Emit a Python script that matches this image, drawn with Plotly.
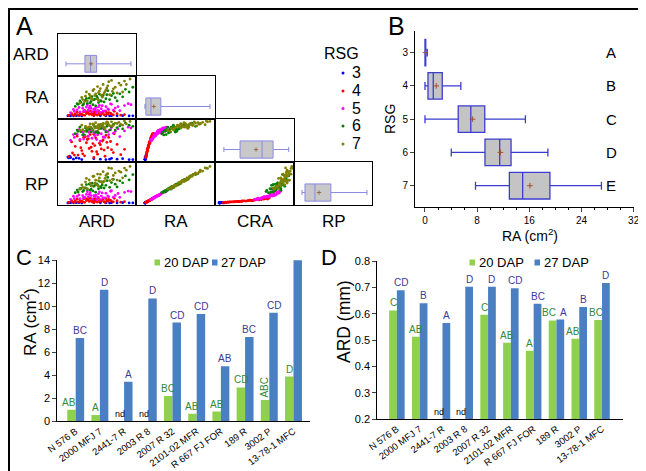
import plotly.graph_objects as go

W, H = 646, 471
FONT = "Liberation Sans, Arial, sans-serif"

# ---------------- Panel A data (samples per root-size group) ----------------
rsg_groups = ["3", "4", "5", "6", "7"]
rsg_colors = ["#0000ff", "#ff0000", "#ff00ff", "#008000", "#808000"]
a_vars = ["ARD", "RA", "CRA", "RP"]

g3_ard = [0.33, 0.36, 0.42, 0.55, 0.62, 0.68, 0.74, 0.80, 0.86, 0.93, 0.30, 0.39,
          0.27, 0.29, 0.28, 0.97, 0.72]
g3_ra = [0.1, 0.2, 0.05, 0.3, 0.15, 0.1, 0.25, 0.1, 0.2, 0.05, 0.15, 0.3,
         0.1, 0.3, 0.2, 0.1, 0.05]
g3_cra = [0.02, 0.05, 0.01, 0.03, 0.02, 0.01, 0.04, 0.02, 0.03, 0.01, 0.06, 0.04,
          0.07, 0.09, 0.05, 0.01, 0.02]
g3_rp = [0.2, 0.3, 0.1, 0.4, 0.2, 0.1, 0.3, 0.1, 0.3, 0.1, 0.2, 0.4,
         0.1, 0.3, 0.2, 0.1, 0.1]

g4_ard = [0.28, 0.32, 0.35, 0.38, 0.40, 0.42, 0.44, 0.45, 0.47, 0.48, 0.50, 0.51, 0.53, 0.54,
          0.56, 0.57, 0.59, 0.60, 0.62, 0.64, 0.66, 0.68, 0.70, 0.73, 0.76, 0.80, 0.84, 0.88,
          0.31, 0.34, 0.37, 0.41, 0.43, 0.46, 0.49, 0.52, 0.55, 0.58, 0.61, 0.63, 0.65, 0.67,
          0.69, 0.71, 0.74, 0.77, 0.45, 0.55]
g4_ra = [0.4, 0.8, 1.5, 0.6, 2.2, 1.1, 3.0, 0.5, 1.8, 2.6, 1.2, 3.5, 0.9, 2.0,
         1.4, 2.8, 0.7, 3.8, 1.6, 2.4, 1.0, 3.2, 1.3, 2.1, 0.8, 1.7, 0.6, 1.0,
         1.9, 0.5, 2.7, 1.3, 0.7, 3.3, 2.3, 1.5, 3.0, 0.9, 2.0, 1.1, 2.9, 0.6,
         1.8, 2.5, 1.2, 3.4, 4.0, 0.4]
g4_cra = [0.08, 0.17, 0.33, 0.12, 0.47, 0.23, 0.55, 0.10, 0.42, 0.50, 0.28, 0.62, 0.21, 0.40,
          0.35, 0.54, 0.14, 0.65, 0.37, 0.46, 0.24, 0.60, 0.30, 0.45, 0.18, 0.38, 0.13, 0.26,
          0.44, 0.12, 0.58, 0.30, 0.15, 0.57, 0.52, 0.31, 0.63, 0.20, 0.41, 0.27, 0.49, 0.09,
          0.43, 0.55, 0.25, 0.64, 0.60, 0.06]
g4_rp = [0.6, 1.1, 2.2, 0.9, 3.1, 1.6, 4.3, 0.7, 2.6, 3.8, 1.7, 5.0, 1.3, 2.9,
         2.0, 4.0, 1.0, 5.4, 2.3, 3.4, 1.4, 4.6, 1.9, 3.0, 1.2, 2.4, 0.9, 1.5,
         2.5, 0.9, 4.0, 1.7, 1.1, 4.8, 3.2, 2.3, 4.2, 1.3, 2.8, 1.6, 4.4, 0.8,
         2.6, 3.7, 1.8, 5.0, 5.9, 0.5]

g5_ard = [0.30, 0.34, 0.37, 0.40, 0.43, 0.45, 0.47, 0.49, 0.51, 0.53, 0.55, 0.57,
          0.59, 0.61, 0.63, 0.65, 0.68, 0.71, 0.74, 0.78, 0.83, 0.92, 0.62, 0.50,
          0.33, 0.39, 0.44, 0.48, 0.52, 0.56, 0.60, 0.64, 0.67, 0.70, 0.73, 0.76,
          0.81, 0.88, 0.95, 0.58]
g5_ra = [2.5, 3.4, 4.5, 2.9, 5.6, 3.8, 6.5, 4.2, 7.2, 3.1, 5.0, 6.0,
         4.0, 7.8, 5.3, 3.5, 6.8, 4.7, 8.5, 5.8, 3.9, 9.0, 2.7, 5.9,
         4.8, 6.2, 3.3, 8.0, 5.5, 4.4, 6.6, 7.5, 3.7, 5.1, 8.8, 4.3,
         6.9, 7.6, 8.2, 2.4]
g5_cra = [0.48, 0.55, 0.63, 0.50, 0.68, 0.60, 0.72, 0.58, 0.75, 0.53, 0.66, 0.69,
          0.61, 0.77, 0.64, 0.56, 0.71, 0.62, 0.79, 0.70, 0.57, 0.80, 0.46, 0.67,
          0.62, 0.74, 0.51, 0.70, 0.72, 0.59, 0.66, 0.78, 0.55, 0.69, 0.74, 0.65,
          0.76, 0.71, 0.78, 0.50]
g5_rp = [3.9, 4.6, 6.9, 4.5, 7.7, 5.9, 9.0, 6.5, 10.9, 4.2, 7.7, 8.3,
         6.2, 11.8, 7.3, 5.4, 10.3, 6.5, 12.9, 8.0, 6.0, 12.6, 3.6, 9.0,
         7.1, 8.6, 5.0, 11.9, 7.8, 6.6, 9.7, 10.6, 5.3, 7.4, 12.4, 6.1,
         10.0, 11.2, 12.0, 3.5]

g6_ard = [0.35, 0.38, 0.41, 0.43, 0.46, 0.48, 0.50, 0.52, 0.54, 0.56, 0.58,
          0.60, 0.62, 0.64, 0.66, 0.69, 0.72, 0.76, 0.80, 0.86, 0.93, 0.57,
          0.37, 0.40, 0.44, 0.47, 0.51, 0.53, 0.55, 0.59, 0.61, 0.63, 0.65,
          0.68, 0.70, 0.74, 0.78, 0.83, 0.89, 0.97]
g6_ra = [7.0, 8.5, 10.0, 7.8, 11.5, 9.2, 13.0, 10.6, 8.2, 12.3, 14.5,
         9.8, 11.2, 13.8, 10.3, 15.5, 12.0, 16.5, 11.0, 14.0, 17.5, 7.4,
         9.0, 11.0, 8.8, 12.8, 9.5, 14.2, 11.8, 13.2, 16.0, 10.8, 15.0,
         12.6, 18.5, 14.8, 13.4, 16.2, 19.5, 21.0]
g6_cra = [0.64, 0.70, 0.69, 0.61, 0.78, 0.74, 0.75, 0.68, 0.72, 0.81, 0.79,
          0.66, 0.77, 0.84, 0.75, 0.82, 0.73, 0.87, 0.79, 0.76, 0.85, 0.67,
          0.73, 0.80, 0.62, 0.70, 0.80, 0.76, 0.85, 0.70, 0.83, 0.78, 0.88,
          0.68, 0.86, 0.81, 0.73, 0.83, 0.90, 0.82]
g6_rp = [10.8, 11.6, 15.2, 12.0, 15.9, 14.1, 19.8, 14.6, 12.7, 18.6, 20.1,
         15.0, 17.1, 19.0, 15.8, 23.5, 16.5, 24.9, 16.9, 21.3, 24.4, 11.4,
         13.6, 15.0, 13.2, 19.4, 13.5, 20.8, 17.6, 19.0, 22.8, 16.1, 22.3,
         18.6, 27.0, 21.5, 19.8, 23.4, 28.5, 30.0]

g7_ard = [0.40, 0.43, 0.46, 0.48, 0.50, 0.52, 0.54, 0.56, 0.58, 0.60, 0.62, 0.64,
          0.66, 0.68, 0.70, 0.72, 0.75, 0.78, 0.82, 0.86, 0.90, 0.94, 0.74, 0.60,
          0.42, 0.45, 0.47, 0.51, 0.53, 0.55, 0.57, 0.59, 0.61, 0.63, 0.65, 0.67,
          0.69, 0.71, 0.76, 0.80, 0.84, 0.88]
g7_ra = [9.5, 12.0, 14.5, 11.0, 16.0, 13.0, 18.5, 15.0, 12.5, 17.0, 20.0, 14.0,
         16.5, 19.0, 22.0, 15.5, 18.0, 21.0, 24.0, 17.5, 23.0, 27.0, 26.0, 11.5,
         13.5, 10.5, 17.5, 14.8, 12.0, 19.5, 16.2, 21.5, 18.2, 15.2, 23.0, 17.8,
         20.5, 25.0, 19.8, 16.8, 22.5, 25.5]
g7_cra = [0.72, 0.74, 0.82, 0.77, 0.81, 0.80, 0.88, 0.78, 0.79, 0.86, 0.87, 0.83,
          0.80, 0.89, 0.91, 0.84, 0.83, 0.90, 0.92, 0.85, 0.88, 0.94, 0.93, 0.76,
          0.85, 0.70, 0.80, 0.88, 0.74, 0.86, 0.91, 0.83, 0.80, 0.87, 0.89, 0.77,
          0.93, 0.86, 0.84, 0.89, 0.87, 0.95]
g7_rp = [14.6, 16.5, 22.0, 15.2, 24.3, 18.0, 27.9, 20.8, 19.0, 23.6, 30.2, 21.3,
         22.8, 28.9, 30.8, 23.6, 25.0, 31.7, 33.6, 26.5, 34.6, 38.5, 36.4, 17.6,
         19.2, 15.8, 25.9, 21.0, 17.9, 28.2, 24.0, 30.5, 26.4, 22.5, 33.0, 25.9,
         30.4, 37.0, 29.0, 24.2, 32.5, 36.8]

group_data = {
    "3": [g3_ard, g3_ra, g3_cra, g3_rp],
    "4": [g4_ard, g4_ra, g4_cra, g4_rp],
    "5": [g5_ard, g5_ra, g5_cra, g5_rp],
    "6": [g6_ard, g6_ra, g6_cra, g6_rp],
    "7": [g7_ard, g7_ra, g7_cra, g7_rp],
}

# diagonal box summaries (all samples)
a_box_min = [0.25, 0.0, 0.07, 0.0]
a_box_q1 = [0.454, 0.4, 0.277, 1.85]
a_box_med = [0.515, 2.5, 0.559, 8.0]
a_box_q3 = [0.58, 6.6, 0.70, 17.8]
a_box_max = [0.95, 27.0, 0.90, 40.0]
a_box_mean = [0.52, 3.7, 0.482, 10.5]

# ---------------- Panel B data ----------------
b_groups = [3, 4, 5, 6, 7]
b_min = [0.0, 0.0, 0.0, 4.03, 7.75]
b_q1 = [0.0, 0.46, 5.1, 9.2, 12.94]
b_med = [0.05, 1.27, 7.03, 11.46, 14.98]
b_q3 = [0.12, 2.65, 9.17, 13.2, 19.16]
b_max = [0.35, 5.5, 15.4, 18.85, 27.06]
b_mean = [0.06, 1.73, 7.3, 11.57, 16.1]
b_letters = ["A", "B", "C", "D", "E"]

# ---------------- Panels C & D data ----------------
genotypes = ["N 576 B", "2000 MFJ 7", "2441-7 R", "2003 R 8", "2007 R 32",
             "2101-02 MFR", "R 667 FJ FOR", "189 R", "3002 P", "13-78-1 MFC"]
ra_20 = [1.0, 0.55, None, None, 2.2, 0.65, 0.85, 2.95, 1.85, 3.9]
ra_27 = [7.25, 11.45, 3.45, 10.7, 8.6, 9.35, 4.8, 7.35, 9.45, 14.1]
ra_20_let = ["AB", "A", "nd", "nd", "BC", "AB", "AB", "CD", "ABC", "D"]
ra_27_let = ["BC", "D", "A", "D", "CD", "CD", "AB", "BC", "CD", "E"]
ard_20 = [0.613, 0.513, None, None, 0.597, 0.49, 0.46, 0.575, 0.505, 0.577]
ard_27 = [0.69, 0.64, 0.565, 0.703, 0.703, 0.697, 0.638, 0.578, 0.626, 0.717]
ard_20_let = ["C", "AB", "nd", "nd", "C", "AB", "A", "BC", "AB", "BC"]
ard_27_let = ["CD", "B", "A", "D", "D", "CD", "BC", "A", "B", "D"]

GREEN = "#8fd14f"
BLUE = "#4a7fc1"
GREEN_TXT = "#2f8a3a"
BLUE_TXT = "#3a3a9a"

# ---------------- helpers ----------------
fig = go.Figure()
axes = {}
count = [0]
annotations = []
shapes = []


def px(x):
    return x / W


def py(y):
    return 1 - y / H


def new_axes(x0, x1, y0, y1, xopts, yopts):
    count[0] += 1
    k = count[0]
    s = "" if k == 1 else str(k)
    axes["xaxis" + s] = dict(domain=[px(x0), px(x1)], anchor="y" + s, **xopts)
    axes["yaxis" + s] = dict(domain=[py(y1), py(y0)], anchor="x" + s, **yopts)
    return "x" + s, "y" + s


def ann(text, x, y, size, color="black", xanchor="center", yanchor="middle",
        angle=0, xref="paper", yref="paper", yshift=0, xshift=0):
    if xref == "paper":
        x = px(x)
    if yref == "paper":
        y = py(y)
    annotations.append(dict(text=text, x=x, y=y, xref=xref, yref=yref,
                            xanchor=xanchor, yanchor=yanchor, textangle=angle,
                            showarrow=False, yshift=yshift, xshift=xshift,
                            font=dict(size=size, color=color, family=FONT)))


# ---------------- Panel A ----------------
cell_x = [50, 128, 207, 286, 364]
cell_y = [26, 68, 111, 154, 197]
a_xrange = [[0.164, 1.004], [-3.7, 29.1], [-0.044, 0.968], [-4.9, 43.1]]
a_yrange = [[0, 1], [-2.2, 29.2], [-0.05, 1.0], [-2.1, 43.2]]
cell_style = dict(showline=True, mirror=True, linecolor="black", linewidth=1,
                  showticklabels=False, ticks="", showgrid=False, zeroline=False)

for r in range(4):
    for c in range(r + 1):
        yr = [0, 1] if c == r else a_yrange[r]
        xa, ya = new_axes(cell_x[c], cell_x[c + 1], cell_y[r], cell_y[r + 1],
                          dict(range=a_xrange[c], **cell_style),
                          dict(range=yr, **cell_style))
        if c == r:
            fig.add_trace(go.Box(orientation="h", y=[0.29], q1=[a_box_q1[c]],
                                 median=[a_box_med[c]], q3=[a_box_q3[c]],
                                 lowerfence=[a_box_min[c]], upperfence=[a_box_max[c]],
                                 width=0.4, whiskerwidth=0.3, boxpoints=False,
                                 fillcolor="#c8c8c8", line=dict(color="#8a8ae0", width=1),
                                 xaxis=xa, yaxis=ya, showlegend=False, hoverinfo="skip"))
            fig.add_trace(go.Scatter(x=[a_box_mean[c]], y=[0.29], mode="markers",
                                     marker=dict(symbol="cross-thin", size=3,
                                                 line=dict(color="#9a6a4a", width=1)),
                                     xaxis=xa, yaxis=ya, showlegend=False))
        else:
            for g, col in zip(rsg_groups, rsg_colors):
                d = group_data[g]
                fig.add_trace(go.Scatter(x=d[c], y=d[r], mode="markers",
                                         marker=dict(size=2.8, color=col),
                                         xaxis=xa, yaxis=ya, showlegend=False))

# row / column labels
row_y = [47, 90, 133, 176.5]
col_x = [88.5, 168, 247.5, 326]
for i, v in enumerate(a_vars):
    ann(v, 43, row_y[i], 17, xanchor="right")
    ann(v, col_x[i], 213.5, 17)

# RSG legend
ann("RSG", 333, 46, 16)
leg_y = [65, 83, 100.5, 118, 136]
for g, col, yy in zip(rsg_groups, rsg_colors, leg_y):
    shapes.append(dict(type="circle", xref="paper", yref="paper",
                       x0=px(333.5), x1=px(336.5), y0=py(yy + 1.5), y1=py(yy - 1.5),
                       fillcolor=col, line=dict(width=0)))
    ann(g, 342, yy, 16, xanchor="left")

# ---------------- Panel B ----------------
xb, yb = new_axes(407, 626.3, 23, 199.3,
                  dict(range=[-1.53, 32.1], tick0=0, dtick=8, ticks="outside", ticklen=4,
                       showline=True, linecolor="black", linewidth=1, showgrid=False,
                       zeroline=False, tickfont=dict(size=10, family=FONT),
                       minor=dict(dtick=2, ticks="outside", ticklen=2, tickcolor="black")),
                  dict(range=[7.65, 2.35], tickvals=b_groups, ticks="outside", ticklen=4,
                       showline=True, linecolor="black", linewidth=1, showgrid=False,
                       zeroline=False, tickfont=dict(size=10, family=FONT)))
fig.add_trace(go.Box(orientation="h", y=b_groups, q1=b_q1, median=b_med, q3=b_q3,
                     lowerfence=b_min, upperfence=b_max, width=0.8, whiskerwidth=0.3,
                     boxpoints=False, fillcolor="#c4c4c4",
                     line=dict(color="#3c3cd0", width=1.3),
                     xaxis=xb, yaxis=yb, showlegend=False, hoverinfo="skip"))
fig.add_trace(go.Scatter(x=b_mean, y=b_groups, mode="markers",
                         marker=dict(symbol="cross-thin", size=4,
                                     line=dict(color="#a0522d", width=1)),
                         xaxis=xb, yaxis=yb, showlegend=False))
for g, letter in zip(b_groups, b_letters):
    ann(letter, 28.6, g, 15, xref=xb, yref=yb)
ann("RSG", 382, 111, 14, angle=-90)
ann("RA (cm<sup>2</sup>)", 522, 227, 14)


# ---------------- Panels C & D ----------------
def bar_panel(x0, x1, y0, y1, xr, yr, ydtick, yfmt, v20, v27, l20, l27, bw, base_y,
              title, title_x, title_size, leg_x, nudge):
    idx = list(range(len(genotypes)))
    xa, ya = new_axes(x0, x1, y0, y1,
                      dict(range=xr, tickvals=idx, ticktext=genotypes, tickangle=-36,
                           ticks="", showline=True, linecolor="black", linewidth=1,
                           showgrid=False, zeroline=False,
                           tickfont=dict(size=9.5, family=FONT)),
                      dict(range=yr, dtick=ydtick, tick0=base_y, tickformat=yfmt,
                           ticks="outside", ticklen=4, showline=True, linecolor="black",
                           linewidth=1, showgrid=False, zeroline=False,
                           tickfont=dict(size=11, family=FONT)))
    fig.add_trace(go.Bar(x=idx, y=v20, width=bw, offset=-bw, marker_color=GREEN,
                         marker_line_width=0, xaxis=xa, yaxis=ya, showlegend=False))
    fig.add_trace(go.Bar(x=idx, y=v27, width=bw, offset=0, marker_color=BLUE,
                         marker_line_width=0, xaxis=xa, yaxis=ya, showlegend=False))
    for i in idx:
        gs, bs = nudge.get(i, (0, 0))
        if v20[i] is None:
            ann(l20[i], i - bw / 2, base_y, 9, xref=xa, yref=ya, yanchor="bottom")
        elif l20[i] == "ABC":
            ann(l20[i], i - bw / 2, v20[i], 10, color=GREEN_TXT, xref=xa, yref=ya,
                yanchor="bottom", angle=-90)
        else:
            ann(l20[i], i - bw / 2, v20[i], 10, color=GREEN_TXT, xref=xa, yref=ya,
                yanchor="bottom", xshift=gs)
        ann(l27[i], i + bw / 2, v27[i], 10, color=BLUE_TXT, xref=xa, yref=ya,
            yanchor="bottom", xshift=bs)
    ann(title, title_x, 314, title_size, angle=-90)
    # legend
    for lx, col, lab in [(leg_x[0], GREEN, "20 DAP"), (leg_x[1], BLUE, "27 DAP")]:
        shapes.append(dict(type="rect", xref="paper", yref="paper",
                           x0=px(lx), x1=px(lx + 5.5), y0=py(257.5), y1=py(251.5),
                           fillcolor=col, line=dict(width=0)))
        ann(lab, lx + 7, 254.5, 13, xanchor="left")


bar_panel(49.3, 301.7, 252.3, 413.3, [-0.76, 9.67], [0, 14.02], 2, "d",
          ra_20, ra_27, ra_20_let, ra_27_let, 0.35, 0,
          "RA (cm<sup>2</sup>)", 21, 17, [146.5, 204], {0: (-2, 0)})
bar_panel(369.3, 615, 252.6, 411, [-0.86, 9.92], [0.2, 0.8025], 0.1, ".1f",
          ard_20, ard_27, ard_20_let, ard_27_let, 0.34, 0.2,
          "ARD (mm)", 336, 17.5, [461.5, 526.5], {7: (-4, 3), 8: (-2, 0), 9: (-2, 0)})

# panel letters
ann("A", 6, 18, 25, xanchor="left")
ann("B", 378, 18, 25, xanchor="left")
ann("C", 6, 249, 22, xanchor="left")
ann("D", 311, 249, 22, xanchor="left")

# outer frame
shapes.append(dict(type="rect", xref="paper", yref="paper", x0=px(1), x1=px(645),
                   y0=py(470), y1=py(1), line=dict(color="black", width=2)))

fig.update_layout(width=W, height=H, autosize=False, template="none",
                  margin=dict(l=0, r=0, t=0, b=0), paper_bgcolor="white",
                  plot_bgcolor="rgba(0,0,0,0)", showlegend=False, barmode="overlay",
                  font=dict(family=FONT, color="black"),
                  annotations=annotations, shapes=shapes, **axes)
fig.write_html("out.html")
